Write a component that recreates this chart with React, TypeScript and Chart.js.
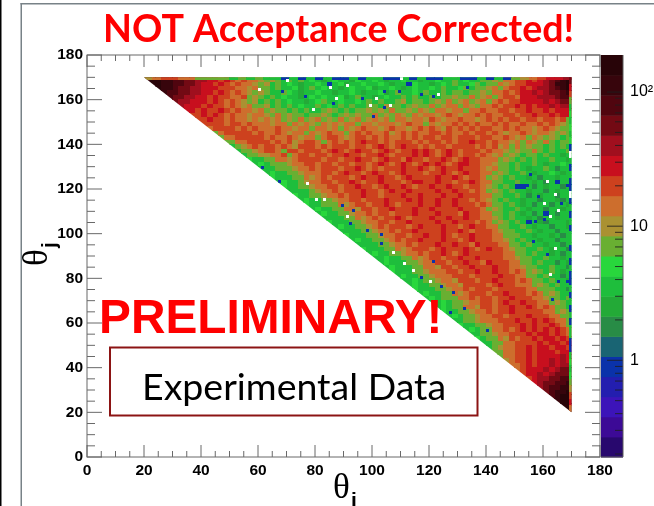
import React, { useEffect, useRef } from "react";
import { Chart, registerables } from "chart.js";

Chart.register(...registerables);

// Colour band of each 2-degree bin (the original has 1-degree bins).
// a = lowest band of the palette ... t = highest; "." = empty bin (white).
// One row per theta_j from 170 downwards, right-aligned at theta_i = 170.
const bandRows: string[] = [
  "sttssrrqqp poononmnmm lklkikikij ihijiihjii jihiijiihi ijiikijiik klkmmnnono pqrst",
  "ttssrrqqp oononmnmml klikijihii jieijhiiji ijihiiejii hijikiijki kkmlmnnooo pqsst",
  "tssrqqpp ooonnnmmlm kkikiijhik ijiihijiij hiijihijii jikiijkikk lmkmnnonop pqrst",
  "srrqqpp oononmnmlk lkiikjihii jiihiijihi ijhikiijik iikikkikkl kmmnmnoopo pqqrs",
  "rqqppo ononnmmnkl kikijiihij ijiijhikii hijiikikii kikklkkmkl mkmnnmooop ppqrr",
  "qppoo ononmnmlkl ikikijiihi jkiijiijik ikiiklikki klkmklmklm kmnmnnoooo popqq",
  "pooo nonnmnmlmk klikikijii kijikikiik kilkkiklkk mklmmkmlkm mnmnnonono opopp",
  "oon onnonmnmml mklkkikiki iklkikikkl klkmkklkml kmmlmmkmmn mmnnmnnonn onooo",
  "nn ononmnmmlm mlkmklkkik klkiklklkk mklkmlkmlm mlmnmlmmnm nmmnnmnnon nonoo",
  "n nonnmnmmlm lmlmklkmkl mklkmklmkl mlmkmmlmml nmlmmnmmlm nmnmnnmnnm nnmnk",
  "nnnnmnnmnm mmlmmkmlml kmlmlmmkmm lmmmlmnmmk mlmmnmnmnm mnmnmmnmmn mnmlk",
  "mnnnnmnmn mmmnmmlmmk mmlmkmlmnm mlmnmmlmnm nmlnmnmnmn nmmnmnmmlm nmlkk",
  "kmnnnnnm nmmnmlmmkm lmnmmkmnmn mmnlmnmnmm nnmnmmnmnn mnmlmmnmlm mlklk",
  "kmmnnnn nmnmmnmlmm kmnnmlmnnm nmnmmnmnmn nmnnmnnnmn nmmnmlmkml klkik",
  "kkmmnn nnmnmnlmnn mkmnmnmnon nmnmnnnmnm nnmnmnnonn mnmmlmkmlk mkikk",
  "iklmn mnnmnmlnnn mnmnnnmnnm nonmnonnmn mnnmnnnnmn mnlmkmklkk ikiki",
  "ikkl mnnmknnmnn nmnonmnonn mnonmnnono nmnonmnnnm nmmlklkkmk ikiik",
  "ikk llmmnkmnnm nnmnnonnmn nonmnnnono nmnonmnnmn mlmklkikki kiihi",
  "ji ikkmmlmnnn nmnnmnnonn mnonnmonnm nnonmnonnm mmklkikiki ikiih",
  "i jikkklmmnn mnnmnnmnnm nonmnonmno nonmnoonnm mlkkikiiki hiiji",
  "iiikkklmmn mnnnmnnonm nmnnnonnon mnonnonnnm lmkkikihii kigii",
  "ijiikklmm mnnmnonnmn onnmnonnnm nnonmnonnm mklkiikihi ijihi",
  "jiiikkml mnmnnnmnon nonnmnonnn nonnonmnnm klkikiihig iihii",
  "ijiiklm mnnmnnonmn nonnnmnoon nonnmnnonm mkkiikiihi gieii",
  "jiikkl mmnnmnnonn mnonnonmnn onnonnmnnm lkikieeigi hiigi",
  "iiiik lmmnmnnnon nmnonnonnn nonnonnmnm klkikiihii gihii",
  "jiik klmmnmnnon nmnnnonnon nnonnonnnm mkkiikigih iigii",
  "iji ikklmmnnmn nnonnnonon nonnonnmnm lkikiihiig iihgi",
  "ji ikkkmlmnnm nnonmnnnon nonnonnnmn mkkikihigi igiih",
  "i jiikkmmlnn mnnonnnonn onnnnonnnm klkiikihii giihi",
  "ijiikklmmn mnnmnnnonn nonnnmonnm mkkikihigi eigii",
  "iiiikkmlm nmnnonmnnn onnonnonnm mlkikiihig iihii",
  "jiiikklm mnnmnnonnn nonnonnnmn mklkikieih giiih",
  "ijiikkl mnmnnnmnon nnonnmnonn mmkkiikihi igiih",
  "iiiikk lmmnmnnonn nnonnonmnn nmlkkiikih iigii",
  "jiiik klmmnnmnno nnonmnnonn nmmkkkiihi ihigi",
  "ijii kklmnmnnon nnonnmnonn nmmlkikiih iigii",
  "iii ikklmmnmnn nonnonnmon nnmmkkikii hiigi",
  "ji iikkmlmnnn mnonnnonmn onnmlkkiik ihiig",
  "i jiikklmmnm nnonmnonnn nnnmmkkiki ihigi",
  "iijiikkmlm nnmnnonnon nnnmmlkkii kiihi",
  "ijiiikklm mnnmnnonnm onnnmmkkik iigih",
  "ijiiikkm mlnnmnnonn nonnmmlkki ikiig",
  "jiiikkl mmmnnmnnon nonnmnmklk ikihi",
  "ijiikk lmmmnnnmnn nnonnmmkki kiigi",
  "iijik klmmlnnnmn nonnnmnmkk ikiih",
  "ijii kklmmlnnnn mnonnmmmkl kikii",
  "jii ikklmmnmnn nmnnnnnmmk kkiig",
  "ij iikkmlmnnn mnnonnnmnm klkii",
  "i jikkkmmnmn nmnnonnnmm lkkik",
  "iijikklmmn nmnonnonnm mklki",
  "ijikkmmln nmnnonnonm nmkki",
  "jiikklmm nmnnonnnnn mmklk",
  "ijikklm mnnmnnnonn nmmkk",
  "iikklm mmnnnonnon onmmk",
  "jiikk lmmnnnonon nonmk",
  "ijik kmmnmnonon ononm",
  "iik klmmnnnono ononm",
  "ji kkmlnmnnon oonon",
  "i ikkmmnnnno noono",
  "iklmmnnono onoon",
  "kkmmnnono oonoo",
  "kmmnnono ooopo",
  "lmnnono opopo",
  "mmnono opopp",
  "mnooo popqq",
  "noop opqqq",
  "nop pqqrr",
  "op qqrrs",
  "p qrrss",
  "qrsst",
  "rstt",
  "stt",
  "tt",
  "t",
];

// Thin strip along the top edge (theta_j 169-170), one letter per 3 degrees of theta_i.
const topEdge = "lmnnmmkkkk ikikiieiei eieeieiiee ieieeiieei eieklmnoop";
// Thin strip along the right edge (theta_i 169-170), one letter per 3 degrees of theta_j.
const rightEdge = "qonk ijijij e.ieie e.eiei eiieie ieeiei eieiie eijijk lnom";

// Isolated low-count bins: [theta_i, theta_j].
const blueBins: number[][] = [
  [76, 161], [104, 163], [109, 163], [86, 158], [117, 162], [121, 161], [133, 165], [100, 152],
  [68, 163], [96, 160], [104, 156], [152, 121], [154, 121], [155, 126], [158, 116], [160, 106],
  [157, 105], [168, 121], [166, 113], [89, 112], [93, 110], [92, 104], [98, 101], [103, 99],
  [67, 123], [61, 129], [103, 95], [121, 87], [117, 80], [124, 76], [128, 73], [132, 66],
  [140, 56], [127, 64], [161, 90], [165, 78], [156, 96], [168, 78], [163, 70],
];
const whiteBins: number[][] = [
  [70, 168], [60, 164], [91, 166], [110, 169], [85, 165], [87, 160], [101, 160], [79, 155],
  [99, 157], [106, 157], [123, 162], [164, 117], [162, 107], [161, 123], [160, 113], [165, 110],
  [77, 122], [80, 115], [83, 115], [91, 107], [107, 91], [111, 86], [114, 83], [120, 78],
  [164, 93], [162, 81],
];

// Palette of the colour bar, lowest band first.
const palette: string[] = [
  "rgb(40,8,110)", "rgb(60,10,150)", "rgb(60,20,185)", "rgb(35,30,175)", "rgb(10,50,170)",
  "rgb(25,100,115)", "rgb(40,140,70)", "rgb(35,170,55)", "rgb(30,190,60)", "rgb(40,215,60)",
  "rgb(105,175,50)", "rgb(170,145,50)", "rgb(205,110,45)", "rgb(205,65,30)", "rgb(200,15,30)",
  "rgb(160,15,30)", "rgb(115,10,20)", "rgb(80,5,15)", "rgb(55,5,12)", "rgb(40,4,8)",
];
const zMin = 0.19;
const zMax = 189;
const axisTicks = { major: 20, minor: 5 };
const titleText = "NOT Acceptance Corrected!";
const stampText = "PRELIMINARY!";
const boxText = "Experimental Data";

type Cell = { x: number; y: number; band: string; w: number; h: number };

const cells: Cell[] = [];
bandRows.forEach((raw, k) => {
  const row = raw.replace(/ /g, "");
  const yCentre = 169 - 2 * k;
  [...row].reverse().forEach((band, i) => {
    cells.push({ x: 169 - 2 * i, y: yCentre, band, w: 2, h: 2 });
  });
});
[...topEdge.replace(/ /g, "")].forEach((band, c) => {
  cells.push({ x: 21.5 + 3 * c, y: 169.5, band, w: 3, h: 1 });
});
[...rightEdge.replace(/ /g, "")].forEach((band, k) => {
  cells.push({ x: 169.5, y: 168.5 - 3 * k, band, w: 1, h: 3 });
});
blueBins.forEach(([x, y]) => cells.push({ x: x + 0.5, y: y + 0.5, band: "e", w: 1, h: 1 }));
whiteBins.forEach(([x, y]) => cells.push({ x: x + 0.5, y: y + 0.5, band: ".", w: 1, h: 1 }));

const PX_X = (600 - 87) / 180;
const PX_Y = (457 - 55) / 180;
const sprites = new Map<string, HTMLCanvasElement>();
function sprite(c: Cell): HTMLCanvasElement {
  const key = `${c.band}${c.w}${c.h}`;
  let s = sprites.get(key);
  if (!s) {
    s = document.createElement("canvas");
    s.width = Math.ceil(c.w * PX_X);
    s.height = Math.ceil(c.h * PX_Y);
    const g = s.getContext("2d")!;
    g.fillStyle = c.band === "." ? "#ffffff" : palette[c.band.charCodeAt(0) - 97];
    g.fillRect(0, 0, s.width, s.height);
    sprites.set(key, s);
  }
  return s;
}

const triangleClip = {
  id: "triangleClip",
  beforeDatasetDraw(chart: any) {
    const { x, y } = chart.scales;
    const c = chart.ctx;
    c.save();
    c.beginPath();
    c.moveTo(x.getPixelForValue(20), y.getPixelForValue(170));
    c.lineTo(x.getPixelForValue(170), y.getPixelForValue(170));
    c.lineTo(x.getPixelForValue(170), y.getPixelForValue(20));
    c.closePath();
    c.clip();
  },
  afterDatasetDraw(chart: any) {
    chart.ctx.restore();
  },
};

function text(c: CanvasRenderingContext2D, s: string, x: number, y: number, font: string, color: string) {
  c.font = font;
  c.fillStyle = color;
  c.textAlign = "left";
  c.textBaseline = "alphabetic";
  c.fillText(s, x, y);
}

const decorations = {
  id: "decorations",
  afterDraw(chart: any) {
    const c: CanvasRenderingContext2D = chart.ctx;
    const { x, y, z } = chart.scales;
    const { left, right, top, bottom } = chart.chartArea;

    // page furniture
    c.fillStyle = "#000";
    c.fillRect(0, 0, 1.5, 506);
    c.fillStyle = "rgb(120,130,135)";
    c.fillRect(20.5, 3, 1.5, 503);
    c.fillRect(20.5, 3, 634, 1.5);

    // frame and inward ticks
    c.strokeStyle = "rgb(105,105,105)";
    c.lineWidth = 1;
    c.strokeRect(left, top, right - left, bottom - top);
    for (let v = 0; v <= 180; v += axisTicks.minor) {
      const isMajor = v % axisTicks.major === 0;
      const lx = isMajor ? 12 : 6;
      const ly = isMajor ? 15 : 8;
      const px = x.getPixelForValue(v);
      const py = y.getPixelForValue(v);
      c.beginPath();
      c.moveTo(px, bottom); c.lineTo(px, bottom - lx);
      c.moveTo(px, top); c.lineTo(px, top + lx);
      c.moveTo(left, py); c.lineTo(left + ly, py);
      c.moveTo(right, py); c.lineTo(right - ly, py);
      c.stroke();
    }

    // colour bar, through the logarithmic z scale
    const barL = 601;
    const barR = 623;
    const lo = Math.log10(zMin);
    const step = (Math.log10(zMax) - lo) / palette.length;
    palette.forEach((col, i) => {
      const y0 = z.getPixelForValue(Math.pow(10, lo + i * step));
      const y1 = z.getPixelForValue(Math.pow(10, lo + (i + 1) * step));
      c.fillStyle = col;
      c.fillRect(barL, y1, barR - barL, y0 - y1 + 0.5);
    });
    c.strokeStyle = "rgba(30,30,30,0.85)";
    for (const decade of [0.1, 1, 10, 100]) {
      for (let m = 1; m <= 9; m++) {
        const v = decade * m;
        if (v < zMin || v > zMax) continue;
        const py = z.getPixelForValue(v);
        const len = m === 1 ? 16 : 8;
        c.beginPath();
        c.moveTo(barR, py); c.lineTo(barR - len, py);
        c.stroke();
      }
    }
    c.strokeStyle = "rgb(90,90,90)";
    c.beginPath();
    c.moveTo(barR, top); c.lineTo(barR, bottom); c.lineTo(barL, bottom);
    c.stroke();

    // title, stamp and box
    text(c, titleText, 103, 42, "bold 37.6px Lato", "#ff0000");
    text(c, stampText, 99, 333, "bold 47.8px 'Liberation Sans'", "#ff0000");
    c.strokeStyle = "rgb(140,20,20)";
    c.lineWidth = 2;
    c.strokeRect(110, 347.5, 367.5, 68);
    text(c, boxText, 142, 400, "37.5px Lato", "#000");

    // axis titles
    text(c, "θ", 333, 498, "35px 'Liberation Serif'", "#000");
    text(c, "i", 351, 507, "bold 21px 'Liberation Sans'", "#000");
    c.save();
    c.translate(47, 266);
    c.rotate(-Math.PI / 2);
    text(c, "θ", 0, 0, "35px 'Liberation Serif'", "#000");
    text(c, "j", 18, 9, "bold 21px 'Liberation Sans'", "#000");
    c.restore();
  },
};

export default function App() {
  const ref = useRef<HTMLCanvasElement>(null);
  useEffect(() => {
    const tickFont = { family: "'Liberation Sans'", size: 15.5, weight: "bold" as const };
    const chart = new Chart(ref.current!, {
      type: "scatter",
      data: {
        datasets: [
          {
            data: cells as any,
            pointStyle: (ctx: any) => sprite(ctx.raw as Cell),
            pointRadius: 1,
            pointHoverRadius: 1,
          } as any,
        ],
      },
      options: {
        responsive: false,
        animation: false,
        events: [],
        layout: { padding: { top: 55, left: 0, right: 0, bottom: 0 } },
        plugins: { legend: { display: false }, tooltip: { enabled: false } },
        scales: {
          x: {
            type: "linear",
            min: 0,
            max: 180,
            grid: { display: false, drawTicks: false },
            border: { display: false },
            ticks: { stepSize: axisTicks.major, color: "#000", font: tickFont, padding: 4, maxRotation: 0 },
            afterFit: (a: any) => { a.height = 49; },
          },
          y: {
            type: "linear",
            min: 0,
            max: 180,
            grid: { display: false, drawTicks: false },
            border: { display: false },
            ticks: { stepSize: axisTicks.major, color: "#000", font: tickFont, padding: 4 },
            afterFit: (a: any) => { a.width = 87; },
          },
          z: {
            type: "logarithmic",
            position: "right",
            min: zMin,
            max: zMax,
            grid: { display: false, drawTicks: false },
            border: { display: false },
            afterFit: (a: any) => { a.width = 54; },
            ticks: {
              autoSkip: false,
              color: "#000",
              padding: 30,
              font: { family: "'Liberation Sans'", size: 16 },
              callback: (v: any) => (v === 1 ? "1" : v === 10 ? "10" : v === 100 ? "10²" : ""),
            },
          },
        },
      } as any,
      plugins: [triangleClip, decorations],
    });
    return () => chart.destroy();
  }, []);
  return (
    <div style={{ position: "absolute", left: 0, top: 0, width: 654, height: 506, background: "#fff" }}>
      <canvas ref={ref} width={654} height={506} style={{ display: "block" }} />
    </div>
  );
}
